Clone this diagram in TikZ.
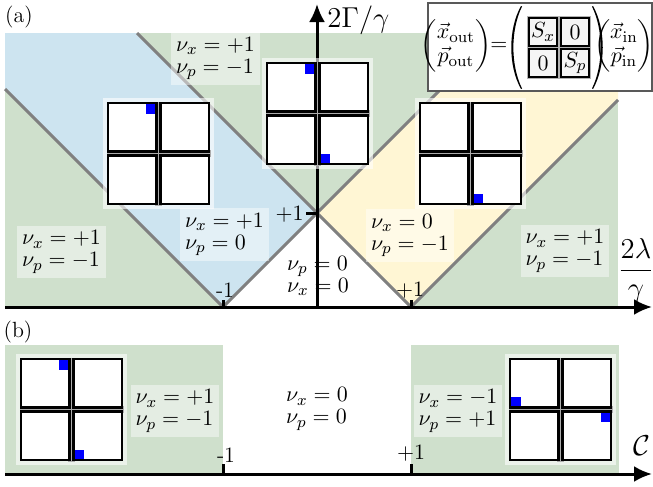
\documentclass[tikz,border=0pt]{standalone}
\usepackage{amsmath}
\usetikzlibrary{arrows.meta}
\definecolor{pgreen}{RGB}{207,224,204}
\definecolor{pblue}{RGB}{205,228,240}
\definecolor{pyellow}{RGB}{255,246,212}
\definecolor{pline}{RGB}{128,128,128}
\newcommand{\qicon}[2]{%
  \begin{scope}[shift={(#1,#2)}]
    \fill[white,opacity=0.6] (-4,-4) rectangle (107,107);
    \fill[gray!65] (48,-0.5) rectangle (55,103.5);
    \fill[gray!65] (-0.5,48) rectangle (103.5,55);
    \foreach \a/\b in {1/1,53.5/1,1/53.5,53.5/53.5}{
      \draw[line width=1.2pt,fill=white] (\a,\b) rectangle ++(48.5,48.5);}
  \end{scope}}
\newcommand{\bsq}[4]{\fill[blue] (#1+#3,#2+#4) rectangle ++(9.3,9.3);}
\tikzset{
  x=0.5pt, y=-0.5pt,
  lbl/.style={fill=white, fill opacity=0.45, text opacity=1, inner sep=2.5pt,
    align=left, font=\fontsize{11}{11}\selectfont},
  plain/.style={inner sep=1pt, align=left, font=\fontsize{11}{11}\selectfont},
  ticklbl/.style={inner sep=0.5pt, font=\fontsize{11}{12}\selectfont},
  axisline/.style={line width=1.5pt, -{Latex[length=9pt,width=8pt]}},
  bound/.style={pline, line width=1.5pt},
  tickmark/.style={line width=1.5pt},
  mcell/.style={draw, line width=0.7pt, fill=gray!8, minimum size=14pt, inner sep=0pt,
    font=\fontsize{11}{12}\selectfont},
}
\begin{document}
\begin{tikzpicture}
\useasboundingbox (0,0) rectangle (653,487);
% ---------- panel (a) regions
\fill[pgreen] (5,33) rectangle (618,307);
\fill[pblue] (223,307) -- (5,89) -- (5,33) -- (137,33) -- (317,213) -- cycle;
\fill[white] (223,307) -- (317,213) -- (411,307) -- cycle;
\fill[pyellow] (411,307) -- (317,213) -- (497,33) -- (618,33) -- (618,100) -- cycle;
% boundaries
\coordinate (A) at (223,307);
\coordinate (B) at (411,307);
\coordinate (C) at (317,213);
\draw[bound] (A) -- (5,89);
\draw[bound] (C) -- (137,33);
\draw[bound] (A) -- (C) -- (B);
\draw[bound] (C) -- (497,33);
\draw[bound] (B) -- (618,100);
% axes
\coordinate (ha0) at (5,307);
\coordinate (ha1) at (652,307);
\coordinate (va0) at (317,307);
\coordinate (va1) at (317,4);
\draw[axisline] (ha0) -- (ha1);
\draw[axisline] (va0) -- (va1);
\draw[tickmark] (223,300) -- (223,307);
\draw[tickmark] (411,300) -- (411,307);
\draw[tickmark] (306,213) -- (317,213);
\node[ticklbl] (tm1) at (225,290) {-1};
\node[ticklbl] (tp1) at (410,290) {$+1$};
\node[ticklbl, anchor=east] (tv1) at (305,214) {$+1$};
\node[inner sep=0pt, anchor=base west, font=\fontsize{15}{16}\selectfont] (ylab) at (327,27) {$2\Gamma/\gamma$};
\node[inner sep=0pt, font=\fontsize{15}{16}\selectfont] (xlab) at (636,271) {$\dfrac{2\lambda}{\gamma}$};
\node[inner sep=0pt, font=\fontsize{11}{12}\selectfont] (la) at (19,17) {(a)};
% icons (a)
\qicon{107}{102}
\bsq{107}{102}{39}{2.2}
\qicon{266}{62}
\bsq{266}{62}{39}{2.2}
\bsq{266}{62}{54.7}{91.5}
\qicon{419}{102}
\bsq{419}{102}{54.7}{91.5}
% labels (a)
\node[lbl] (ntop) at (215.5,58.5) {$\nu_x = +1$\\$\nu_p = -1$};
\node[lbl] (nleft) at (61.5,252) {$\nu_x = +1$\\$\nu_p = -1$};
\node[lbl] (nblue) at (224.5,234.5) {$\nu_x = +1$\\$\nu_p = 0$};
\node[plain] (nwhite) at (318,276) {$\nu_p = 0$\\$\nu_x = 0$};
\node[lbl] (nyel) at (410,235.5) {$\nu_x = 0$\\$\nu_p = -1$};
\node[lbl] (nright) at (565,251) {$\nu_x = +1$\\$\nu_p = -1$};
% legend
\node[draw=gray!70!black, line width=1.2pt, fill=white, minimum width=112pt, minimum height=44pt, inner sep=0pt] (legend) at (540,47) {};
\node[inner sep=0pt, font=\fontsize{11}{12}\selectfont] (vout) at (456,46) {$\begin{pmatrix}\vec{x}_{\mathrm{out}}\\ \vec{p}_{\mathrm{out}}\end{pmatrix}$};
\node[inner sep=0pt, font=\fontsize{11}{12}\selectfont] (eq) at (499,46) {$=$};
% big parentheses
\fill (521,6) .. controls (508,29) and (508,66) .. (521,89) -- (522,88.5) .. controls (510.5,65) and (510.5,30) .. (522,6.5) -- cycle;
\fill (593,6) .. controls (606,29) and (606,66) .. (593,89) -- (592,88.5) .. controls (603.5,65) and (603.5,30) .. (592,6.5) -- cycle;
\fill[gray!60] (527,16) rectangle (591,79);
\node[mcell] (sx) at (543,32) {$S_x$};
\node[mcell] (z1) at (575,32) {$0$};
\node[mcell] (z2) at (543,63) {$0$};
\node[mcell] (sp) at (575,63) {$S_p$};
\node[inner sep=0pt, font=\fontsize{11}{12}\selectfont] (vin) at (624,46) {$\begin{pmatrix}\vec{x}_{\mathrm{in}}\\ \vec{p}_{\mathrm{in}}\end{pmatrix}$};
% ---------- panel (b)
\node[inner sep=0pt, font=\fontsize{11}{12}\selectfont] (lb) at (18,332) {(b)};
\fill[pgreen] (5,345) rectangle (223,474);
\fill[pgreen] (411,345) rectangle (619,474);
\coordinate (hb0) at (5,474);
\coordinate (hb1) at (652,474);
\draw[axisline] (hb0) -- (hb1);
\draw[tickmark] (223,464) -- (223,474);
\draw[tickmark] (411,464) -- (411,474);
\node[ticklbl] (bm1) at (226,455) {-1};
\node[ticklbl] (bp1) at (411,453) {$+1$};
\node[inner sep=0pt, font=\fontsize{15}{16}\selectfont] (clab) at (642,446) {$\mathcal{C}$};
\qicon{20}{358}
\bsq{20}{358}{39}{2.2}
\bsq{20}{358}{54.7}{91.5}
\qicon{509}{358}
\bsq{509}{358}{2.2}{39}
\bsq{509}{358}{91.5}{54.7}
\node[lbl] (bleft) at (175,411) {$\nu_x = +1$\\$\nu_p = -1$};
\node[plain] (bmid) at (317,409) {$\nu_x = 0$\\$\nu_p = 0$};
\node[lbl] (bright) at (458,411) {$\nu_x = -1$\\$\nu_p = +1$};
\end{tikzpicture}
\end{document}
